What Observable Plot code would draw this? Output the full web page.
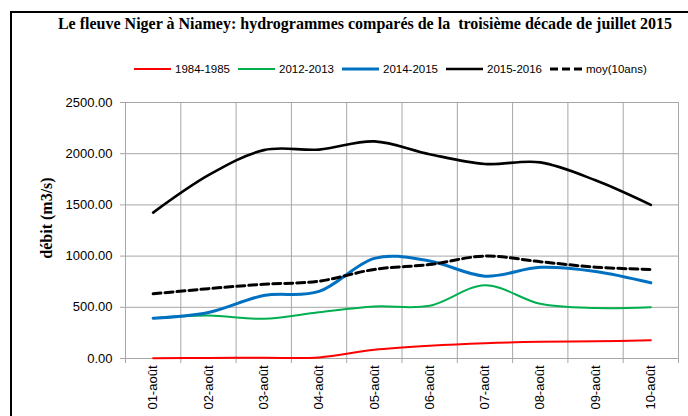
<!DOCTYPE html>
<html>
<head>
<meta charset="utf-8">
<script src="https://cdn.jsdelivr.net/npm/d3@7"></script>
<script src="https://cdn.jsdelivr.net/npm/@observablehq/plot@0.6"></script>
<style>
  html, body { margin: 0; padding: 0; background: #fff; }
  #wrap { position: relative; width: 688px; height: 416px; overflow: hidden; background: #fff; }
  #frame { position: absolute; left: 10px; top: 11px; width: 700px; height: 420px; border: 2px solid #000; box-sizing: border-box; }
  #title { position: absolute; left: 0; width: 730px; top: 15px; text-align: center; font: bold 16px "Liberation Serif", "Times New Roman", serif; color: #000; white-space: pre; }
  #legend { position: absolute; left: 134px; top: 63px; font: 11.5px "Liberation Sans", Arial, sans-serif; color: #000; display: flex; align-items: center; white-space: nowrap; }
  #legend .item { display: flex; align-items: center; margin-right: 8px; }
  #legend svg { margin-right: 4px; }
  #ylabel { position: absolute; left: 47px; top: 218px; transform: translate(-50%, -50%) rotate(-90deg); font: bold 16px "Liberation Serif", "Times New Roman", serif; white-space: nowrap; color: #000; }
  #chart { position: absolute; left: 0; top: 0; }
</style>
</head>
<body>
<div id="wrap">
  <div id="frame"></div>
  <div id="chart"></div>
  <div id="title"></div>
  <div id="legend"></div>
  <div id="ylabel"></div>
</div>
<script>
const titleText = "Le fleuve Niger à Niamey: hydrogrammes comparés de la  troisième décade de juillet 2015";
const yLabel = "débit (m3/s)";
const categories = ["01-août","02-août","03-août","04-août","05-août","06-août","07-août","08-août","09-août","10-août"];
const seriesNames = ["1984-1985","2012-2013","2014-2015","2015-2016","moy(10ans)"];
const v1984 = [3, 5, 8, 10, 85, 125, 150, 163, 168, 179];
const v2012 = [394, 420, 388, 452, 508, 515, 715, 534, 493, 501];
const v2014 = [394, 450, 615, 655, 978, 952, 804, 890, 850, 739];
const v2015 = [1425, 1790, 2035, 2040, 2120, 1995, 1900, 1915, 1740, 1500];
const vMoy = [632, 682, 725, 755, 870, 918, 1000, 945, 892, 869];
const yTicks = [0, 500, 1000, 1500, 2000, 2500];

const styles = [
  {color: "#ff0000", width: 2, dash: null},
  {color: "#00b050", width: 2, dash: null},
  {color: "#0070c0", width: 3, dash: null},
  {color: "#000000", width: 2.6, dash: null},
  {color: "#000000", width: 3, dash: "8,4"}
];
const allValues = [v1984, v2012, v2014, v2015, vMoy];

document.getElementById("title").textContent = titleText;
document.getElementById("ylabel").textContent = yLabel;

// legend
const legend = document.getElementById("legend");
seriesNames.forEach((name, i) => {
  const st = styles[i];
  const item = document.createElement("div");
  item.className = "item";
  const w = i === 4 ? 32 : 37;
  item.innerHTML = `<svg width="${w}" height="8"><line x1="0" x2="${w}" y1="4" y2="4" stroke="${st.color}" stroke-width="${st.width}" ${st.dash ? `stroke-dasharray="${st.dash}"` : ""}/></svg><span>${name}</span>`;
  legend.appendChild(item);
});

// data table
const rows = [];
allValues.forEach((vals, s) => {
  vals.forEach((v, i) => rows.push({series: seriesNames[s], s, pos: i + 0.5, value: v}));
});
const boundaries = d3.range(categories.length + 1);
const centers = categories.map((c, i) => i + 0.5);

const marks = [
  Plot.ruleY(yTicks, {stroke: "#a6a6a6", strokeWidth: 1}),
  Plot.ruleX(boundaries, {stroke: "#a6a6a6", strokeWidth: 1}),
  Plot.axisY({ticks: yTicks, tickFormat: d3.format(".2f"), tickSize: 5, tickPadding: 8, stroke: "#a6a6a6", label: null,
    fontSize: 13, fontFamily: "Liberation Sans, Arial, sans-serif"}),
  Plot.axisX({ticks: boundaries, tickSize: 5, tickFormat: () => "", stroke: "#a6a6a6", label: null}),
  Plot.axisX({ticks: centers, tickSize: 0, tickPadding: 7, tickRotate: -90, tickFormat: d => categories[Math.round(d - 0.5)], label: null,
    fontSize: 13, fontFamily: "Liberation Sans, Arial, sans-serif"})
];
seriesNames.forEach((name, s) => {
  const st = styles[s];
  marks.push(Plot.line(rows.filter(r => r.s === s), {
    x: "pos", y: "value", curve: "cardinal",
    stroke: st.color, strokeWidth: st.width,
    strokeDasharray: st.dash || undefined
  }));
});

const chart = Plot.plot({
  width: 688,
  height: 416,
  marginTop: 102,
  marginBottom: 58,
  marginLeft: 125,
  marginRight: 10,
  style: {background: "transparent", color: "#000", fontFamily: "Liberation Sans, Arial, sans-serif", fontSize: "13px"},
  x: {type: "linear", domain: [0, categories.length]},
  y: {domain: [0, 2500]},
  marks
});
document.getElementById("chart").appendChild(chart);
</script>
</body>
</html>
